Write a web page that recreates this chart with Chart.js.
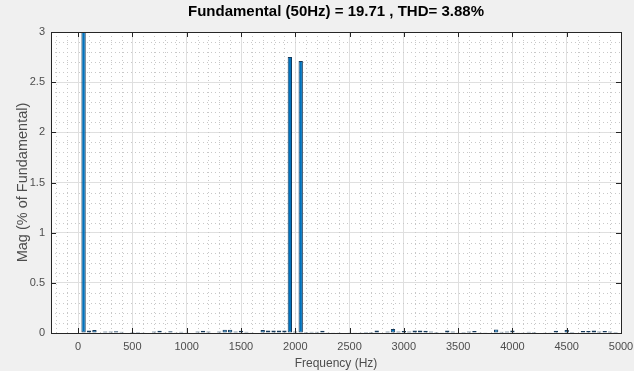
<!DOCTYPE html>
<html>
<head>
<meta charset="utf-8">
<script src="https://cdn.jsdelivr.net/npm/chart.js@4.4.1/dist/chart.umd.min.js"></script>
<style>
  html, body { margin: 0; padding: 0; background: #f0f0f0; }
  #wrap { width: 634px; height: 371px; }
</style>
</head>
<body>
<div id="wrap"><canvas id="fftChart" width="634" height="371"></canvas></div>
<script>
// FFT spectrum, harmonic bins every 50 Hz (0 .. 5000 Hz)
const freqs = [
    0, 50, 100, 150, 200, 250, 300, 350, 400, 450,
    500, 550, 600, 650, 700, 750, 800, 850, 900, 950,
    1000, 1050, 1100, 1150, 1200, 1250, 1300, 1350, 1400, 1450,
    1500, 1550, 1600, 1650, 1700, 1750, 1800, 1850, 1900, 1950,
    2000, 2050, 2100, 2150, 2200, 2250, 2300, 2350, 2400, 2450,
    2500, 2550, 2600, 2650, 2700, 2750, 2800, 2850, 2900, 2950,
    3000, 3050, 3100, 3150, 3200, 3250, 3300, 3350, 3400, 3450,
    3500, 3550, 3600, 3650, 3700, 3750, 3800, 3850, 3900, 3950,
    4000, 4050, 4100, 4150, 4200, 4250, 4300, 4350, 4400, 4450,
    4500, 4550, 4600, 4650, 4700, 4750, 4800, 4850, 4900, 4950,
    5000
];

// magnitude in % of fundamental (fundamental = 100, clipped by the axis)
const mags = [
    0, 100, 0.025, 0.03, 0, 0.016, 0.014, 0.018, 0.012, 0.004,
    0.01, 0.01, 0.003, 0.004, 0.016, 0.022, 0.003, 0.018, 0.003, 0.012,
    0.003, 0.004, 0.014, 0.022, 0.016, 0.004, 0.014, 0.032, 0.032, 0.014,
    0.022, 0.012, 0.003, 0.004, 0.03, 0.026, 0.026, 0.026, 0.026, 2.75,
    0.016, 2.71, 0.01, 0.012, 0.012, 0.022, 0.003, 0.008, 0.003, 0.004,
    0.008, 0.003, 0.008, 0.01, 0.01, 0.024, 0.004, 0.016, 0.04, 0.016,
    0.02, 0.014, 0.024, 0.024, 0.022, 0.014, 0.01, 0.003, 0.026, 0.016,
    0.003, 0.01, 0.016, 0.02, 0.008, 0.003, 0.004, 0.035, 0.012, 0.016,
    0.026, 0.003, 0.008, 0.012, 0.01, 0.004, 0.003, 0.003, 0.022, 0.003,
    0.03, 0.01, 0.004, 0.02, 0.02, 0.024, 0.016, 0.02, 0.016, 0.01,
    0.006
];

const xTicks = [0, 500, 1000, 1500, 2000, 2500, 3000, 3500, 4000, 4500, 5000];
const yTicks = [0, 0.5, 1, 1.5, 2, 2.5, 3];
const xMinorStep = 100;
const yMinorStep = 0.1;

const titleText = 'Fundamental (50Hz) = 19.71 , THD= 3.88%';
const axisColor = '#262626';
const tickColor = '#4d4d4d';
const fontFamily = '"Liberation Sans", Arial, Helvetica, sans-serif';

// dotted minor grid, box and inward tick marks like MATLAB axes
const matlabAxesPlugin = {
    id: 'matlabAxes',
    beforeDatasetsDraw(chart) {
        const ctx = chart.ctx;
        const area = chart.chartArea;
        const xs = chart.scales.x;
        const ys = chart.scales.y;
        ctx.save();
        ctx.strokeStyle = '#c8c8c8';
        ctx.lineWidth = 1;
        ctx.setLineDash([1, 3]);
        for (let v = Math.ceil(xs.min / xMinorStep) * xMinorStep; v <= xs.max; v += xMinorStep) {
            if (v % 500 === 0) continue;
            const px = Math.round(xs.getPixelForValue(v)) + 0.5;
            ctx.beginPath();
            ctx.moveTo(px, area.top);
            ctx.lineTo(px, area.bottom);
            ctx.stroke();
        }
        for (let i = 1; i < 30; i++) {
            if (i % 5 === 0) continue;
            const py = Math.round(ys.getPixelForValue(i * yMinorStep)) + 0.5;
            ctx.beginPath();
            ctx.moveTo(area.left, py);
            ctx.lineTo(area.right, py);
            ctx.stroke();
        }
        ctx.restore();
    },
    afterDatasetsDraw(chart) {
        const ctx = chart.ctx;
        const area = chart.chartArea;
        const xs = chart.scales.x;
        const ys = chart.scales.y;
        const tickLen = 5;
        ctx.save();
        ctx.strokeStyle = axisColor;
        ctx.lineWidth = 1;
        ctx.strokeRect(Math.round(area.left) + 0.5, Math.round(area.top) + 0.5,
            Math.round(area.right - area.left), Math.round(area.bottom - area.top));
        ctx.beginPath();
        xTicks.forEach(v => {
            const px = Math.round(xs.getPixelForValue(v)) + 0.5;
            ctx.moveTo(px, area.bottom);
            ctx.lineTo(px, area.bottom - tickLen);
            ctx.moveTo(px, area.top);
            ctx.lineTo(px, area.top + tickLen);
        });
        yTicks.forEach(v => {
            const py = Math.round(ys.getPixelForValue(v)) + 0.5;
            ctx.moveTo(area.left, py);
            ctx.lineTo(area.left + tickLen, py);
            ctx.moveTo(area.right, py);
            ctx.lineTo(area.right - tickLen, py);
        });
        ctx.stroke();
        ctx.restore();
    }
};

const chartAreaBg = {
    id: 'chartAreaBg',
    beforeDraw(chart) {
        const ctx = chart.ctx;
        const area = chart.chartArea;
        ctx.save();
        ctx.fillStyle = '#f0f0f0';
        ctx.fillRect(0, 0, chart.width, chart.height);
        ctx.fillStyle = '#ffffff';
        ctx.fillRect(area.left, area.top, area.right - area.left, area.bottom - area.top);
        ctx.restore();
    }
};

new Chart(document.getElementById('fftChart').getContext('2d'), {
    type: 'bar',
    data: {
        datasets: [{
            label: 'Mag',
            data: freqs.map((f, i) => ({ x: f, y: mags[i] })),
            backgroundColor: '#0072bd',
            borderColor: '#163a5a',
            borderWidth: 1,
            borderSkipped: false,
            categoryPercentage: 1.0,
            barPercentage: 0.8
        }]
    },
    options: {
        responsive: false,
        animation: false,
        layout: { padding: { top: 0, right: 13, bottom: 0, left: 0 } },
        plugins: {
            legend: { display: false },
            tooltip: { enabled: false },
            title: {
                display: true,
                text: titleText,
                fullSize: false,
                color: '#000000',
                font: { family: fontFamily, size: 15, weight: 'bold', lineHeight: 1.2 },
                padding: { top: 3, bottom: 11 }
            }
        },
        scales: {
            x: {
                type: 'linear',
                min: -250,
                max: 5000,
                offset: false,
                afterBuildTicks: scale => { scale.ticks = xTicks.map(v => ({ value: v })); },
                afterFit: scale => {
                    scale.height = 38;
                    scale.paddingLeft = 0;
                    scale.paddingRight = 0;
                },
                ticks: {
                    autoSkip: false,
                    maxRotation: 0,
                    padding: 7,
                    color: tickColor,
                    font: { family: fontFamily, size: 11 },
                    callback: v => String(v)
                },
                grid: { color: '#dfdfdf', drawTicks: false, offset: false },
                border: { display: false },
                title: {
                    display: true,
                    text: 'Frequency (Hz)',
                    color: tickColor,
                    font: { family: fontFamily, size: 12 },
                    padding: { top: 0, bottom: 0 }
                }
            },
            y: {
                min: 0,
                max: 3,
                afterBuildTicks: scale => { scale.ticks = yTicks.map(v => ({ value: v })); },
                afterFit: scale => {
                    scale.width = 51;
                    scale.paddingTop = 0;
                    scale.paddingBottom = 0;
                },
                ticks: {
                    padding: 6,
                    color: tickColor,
                    font: { family: fontFamily, size: 11 },
                    callback: v => String(v)
                },
                grid: { color: '#dfdfdf', drawTicks: false },
                border: { display: false },
                title: {
                    display: true,
                    text: 'Mag (% of Fundamental)',
                    color: tickColor,
                    font: { family: fontFamily, size: 14.5 },
                    padding: { top: 14, bottom: 0 }
                }
            }
        }
    },
    plugins: [chartAreaBg, matlabAxesPlugin]
});
</script>
</body>
</html>
